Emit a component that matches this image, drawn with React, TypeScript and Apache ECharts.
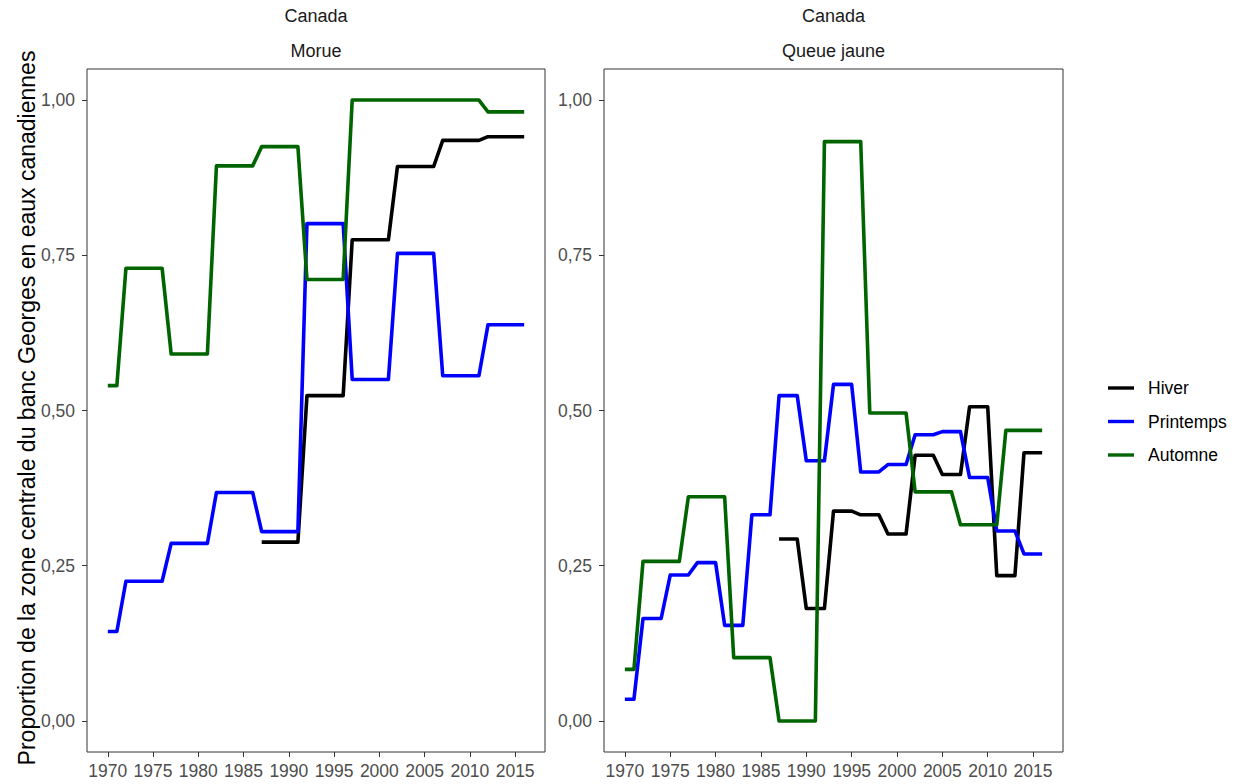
import React, { useEffect, useRef } from "react";
import * as echarts from "echarts";

const years: number[] = [];
for (let y = 1970; y <= 2016; y++) years.push(y);

const rep = (v: number | null, n: number) => Array(n).fill(v);

// Morue (left panel)
const morueHiver: (number | null)[] = [
  ...rep(null, 17),
  ...rep(0.288, 5), ...rep(0.524, 5), ...rep(0.775, 5), ...rep(0.893, 5), ...rep(0.935, 5), ...rep(0.941, 5),
];
const moruePrintemps: (number | null)[] = [
  ...rep(0.144, 2),
  ...rep(0.225, 5), ...rep(0.286, 5), ...rep(0.368, 5), ...rep(0.305, 5), ...rep(0.801, 5),
  ...rep(0.55, 5), ...rep(0.753, 5), ...rep(0.556, 5), ...rep(0.638, 5),
];
const morueAutomne: (number | null)[] = [
  ...rep(0.54, 2),
  ...rep(0.729, 5), ...rep(0.591, 5), ...rep(0.894, 5), ...rep(0.925, 5), ...rep(0.711, 5),
  ...rep(1.0, 15), ...rep(0.981, 5),
];

// Queue jaune (right panel)
const qjHiver: (number | null)[] = [
  ...rep(null, 17),
  ...rep(0.293, 3), ...rep(0.181, 3), ...rep(0.338, 3), ...rep(0.332, 3), ...rep(0.301, 3),
  ...rep(0.428, 3), ...rep(0.397, 3), ...rep(0.506, 3), ...rep(0.234, 3), ...rep(0.432, 3),
];
const qjPrintemps: (number | null)[] = [
  ...rep(0.035, 2),
  ...rep(0.165, 3), ...rep(0.235, 3), ...rep(0.255, 3), ...rep(0.154, 3), ...rep(0.332, 3),
  ...rep(0.524, 3), ...rep(0.419, 3), ...rep(0.542, 3), ...rep(0.401, 3), ...rep(0.413, 3),
  ...rep(0.461, 3), ...rep(0.466, 3), ...rep(0.392, 3), ...rep(0.306, 3), ...rep(0.269, 3),
];
const qjAutomne: (number | null)[] = [
  ...rep(0.083, 2),
  ...rep(0.257, 5), ...rep(0.361, 5), ...rep(0.102, 5), ...rep(0.0, 5), ...rep(0.933, 5),
  ...rep(0.496, 5), ...rep(0.369, 5), ...rep(0.316, 5), ...rep(0.468, 5),
];

const seasons = ["Hiver", "Printemps", "Automne"];
const seasonColors = ["#000000", "#0000ff", "#006400"];
const xTicks = [1970, 1975, 1980, 1985, 1990, 1995, 2000, 2005, 2010, 2015];
const yTicks = [0, 0.25, 0.5, 0.75, 1.0];
const panelCountry = ["Canada", "Canada"];
const panelSpecies = ["Morue", "Queue jaune"];
const yAxisTitle = "Proportion de la zone centrale du banc Georges en eaux canadiennes";

const FONT = "'Liberation Sans', Arial, sans-serif";

export default function App() {
  const ref = useRef<HTMLDivElement>(null);
  useEffect(() => {
    document.body.style.margin = "0";
    const chart = echarts.init(ref.current!, null, { renderer: "svg" });
    const panels = [
      [morueHiver, moruePrintemps, morueAutomne],
      [qjHiver, qjPrintemps, qjAutomne],
    ];
    const grids = [
      { left: 87, top: 69, width: 458, height: 683 },
      { left: 604, top: 69, width: 459, height: 683 },
    ];
    const xAxes = grids.map((_, i) => ({
      type: "value",
      gridIndex: i,
      min: 1967.7,
      max: 2018.3,
      splitLine: { show: false },
      axisLine: { show: false, onZero: false },
      axisTick: { show: true, length: 5, customValues: xTicks, lineStyle: { color: "#333333" } },
      axisLabel: {
        customValues: xTicks,
        color: "#4d4d4d",
        fontSize: 17.5,
        fontFamily: FONT,
        margin: 10,
        formatter: (v: number) => String(v),
      },
    }));
    const yAxes = grids.map((_, i) => ({
      type: "value",
      gridIndex: i,
      min: -0.05,
      max: 1.05,
      splitLine: { show: false },
      axisLine: { show: false, onZero: false },
      axisTick: { show: true, length: 5, customValues: yTicks, lineStyle: { color: "#333333" } },
      axisLabel: {
        customValues: yTicks,
        color: "#4d4d4d",
        fontSize: 17.5,
        fontFamily: FONT,
        margin: 12,
        formatter: (v: number) => v.toFixed(2).replace(".", ","),
      },
    }));
    const series: any[] = [];
    panels.forEach((p, pi) => {
      p.forEach((vals, si) => {
        series.push({
          type: "line",
          name: seasons[si],
          xAxisIndex: pi,
          yAxisIndex: pi,
          data: years.map((y, k) => [y, vals[k]]),
          showSymbol: false,
          symbol: "none",
          connectNulls: false,
          lineStyle: { color: seasonColors[si], width: 3.6, join: "round", cap: "butt" },
          itemStyle: { color: seasonColors[si] },
          z: 2 + si,
        });
      });
    });
    const graphic: any[] = [];
    grids.forEach((g, i) => {
      const cx = g.left + g.width / 2;
      graphic.push({
        type: "text",
        x: cx,
        y: 16,
        style: { text: panelCountry[i], fill: "#1a1a1a", fontSize: 18, fontFamily: FONT, textAlign: "center", textVerticalAlign: "middle" },
      });
      graphic.push({
        type: "text",
        x: cx,
        y: 51,
        style: { text: panelSpecies[i], fill: "#1a1a1a", fontSize: 18, fontFamily: FONT, textAlign: "center", textVerticalAlign: "middle" },
      });
      graphic.push({
        type: "rect",
        shape: { x: g.left, y: g.top, width: g.width, height: g.height },
        style: { fill: "none", stroke: "#333333", lineWidth: 1 },
        z: 10,
      });
    });
    graphic.push({
      type: "text",
      x: 27,
      y: 408,
      rotation: Math.PI / 2,
      style: { text: yAxisTitle, fill: "#000000", fontSize: 23, fontFamily: FONT, textAlign: "center", textVerticalAlign: "middle" },
    });
    chart.setOption({
      animation: false,
      backgroundColor: "#ffffff",
      grid: grids,
      xAxis: xAxes,
      yAxis: yAxes,
      series,
      graphic,
      legend: {
        data: seasons.map((s, i) => ({ name: s, icon: "rect", itemStyle: { color: seasonColors[i] } })),
        orient: "vertical",
        left: 1103,
        top: 373,
        itemWidth: 26,
        itemHeight: 3.4,
        itemGap: 13.5,
        textStyle: { fontSize: 17.5, fontFamily: FONT, color: "#000000", lineHeight: 20, padding: [0, 0, 0, 9] },
      },
    });
    return () => chart.dispose();
  }, []);
  return <div ref={ref} style={{ position: "fixed", left: 0, top: 0, width: 1238, height: 784 }} />;
}
